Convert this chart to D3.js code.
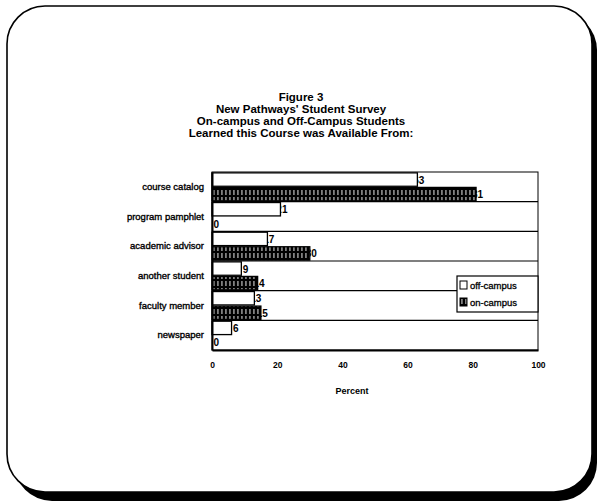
<!DOCTYPE html>
<html>
<head>
<meta charset="utf-8">
<script src="https://cdn.jsdelivr.net/npm/d3@7"></script>
<style>
  body { margin: 0; background: #fff; }
  text { font-family: "Liberation Sans", Arial, sans-serif; fill: #000; }
</style>
</head>
<body>
<div id="chart"></div>
<script>
var categories = ["course catalog", "program pamphlet", "academic advisor", "another student", "faculty member", "newspaper"];
var offCampus = [63, 21, 17, 9, 13, 6];
var onCampus = [81, 0, 30, 14, 15, 0];
var xTicks = [0, 20, 40, 60, 80, 100];
var seriesNames = ["off-campus", "on-campus"];
var titleLines = ["Figure 3", "New Pathways' Student Survey", "On-campus and Off-Campus Students", "Learned this Course was Available From:"];

var W = 597, H = 502;
var plot = { left: 212, right: 538, top: 172, bottom: 350 };

var svg = d3.select("#chart").append("svg")
  .attr("width", W).attr("height", H);

// hatched fill for on-campus bars
var pat = svg.append("defs").append("pattern")
  .attr("id", "hatch")
  .attr("patternUnits", "userSpaceOnUse")
  .attr("width", 4).attr("height", 7);
pat.append("rect").attr("width", 4).attr("height", 7).attr("fill", "#000");
pat.append("rect").attr("x", 1.5).attr("y", 1).attr("width", 0.9).attr("height", 5).attr("fill", "#fff");

// frame with drop shadow
svg.append("rect")
  .attr("x", 14).attr("y", 12).attr("width", 583).attr("height", 489)
  .attr("rx", 38).attr("fill", "#000");
svg.append("rect")
  .attr("x", 7).attr("y", 6).attr("width", 585).attr("height", 486)
  .attr("rx", 38).attr("fill", "#fff")
  .attr("stroke", "#000").attr("stroke-width", 1.6);

// title
svg.append("g").selectAll("text")
  .data(titleLines)
  .enter().append("text")
  .attr("x", 301)
  .attr("y", function (d, i) { return 101 + i * 12; })
  .attr("text-anchor", "middle")
  .style("font-size", "11.5px")
  .style("font-weight", "bold")
  .text(function (d) { return d; });

var x = d3.scaleLinear().domain([0, 100]).range([plot.left, plot.right]);
var y = d3.scaleBand().domain(categories).range([plot.top, plot.bottom]);
var sub = d3.scaleBand().domain(seriesNames).range([0, y.bandwidth()])
  .paddingInner(0.08).paddingOuter(0.06);

var rows = categories.map(function (c, i) {
  return { cat: c, vals: [offCampus[i], onCampus[i]] };
});

// plot area box and category gridlines
svg.append("rect")
  .attr("x", plot.left).attr("y", plot.top)
  .attr("width", plot.right - plot.left).attr("height", plot.bottom - plot.top)
  .attr("fill", "none").attr("stroke", "#000").attr("stroke-width", 1);
svg.append("g").selectAll("line")
  .data(categories.slice(1))
  .enter().append("line")
  .attr("x1", plot.left).attr("x2", plot.right)
  .attr("y1", function (d) { return y(d); })
  .attr("y2", function (d) { return y(d); })
  .attr("stroke", "#000").attr("stroke-width", 1.2);

// data labels (drawn first, bars cover the leading digit as in the scan)
var flat = [];
rows.forEach(function (r) {
  r.vals.forEach(function (v, j) {
    flat.push({ cat: r.cat, s: seriesNames[j], v: v });
  });
});

svg.append("g").selectAll("text")
  .data(flat)
  .enter().append("text")
  .attr("x", function (d) { return x(d.v) + 7; })
  .attr("y", function (d) { return y(d.cat) + sub(d.s) + sub.bandwidth() / 2 + 4; })
  .attr("text-anchor", "end")
  .style("font-size", "10px")
  .style("font-weight", "bold")
  .text(function (d) { return d.v; });

// bars
svg.append("g").selectAll("rect")
  .data(flat)
  .enter().append("rect")
  .attr("x", x(0))
  .attr("y", function (d) { return y(d.cat) + sub(d.s); })
  .attr("width", function (d) { return x(d.v) - x(0); })
  .attr("height", sub.bandwidth())
  .attr("fill", function (d) { return d.s == "off-campus" ? "#fff" : "url(#hatch)"; })
  .attr("stroke", "#000")
  .attr("stroke-width", function (d) { return d.v > 0 ? 1.3 : 0; });

// axes
var xAxis = svg.append("g")
  .attr("transform", "translate(0," + plot.bottom + ")")
  .call(d3.axisBottom(x).tickValues(xTicks).tickSize(0).tickPadding(12));
xAxis.select(".domain").attr("stroke", "#000").attr("stroke-width", 2);
xAxis.selectAll("text")
  .style("font-size", "8.5px").style("font-weight", "bold")
  .style("font-family", "'Liberation Sans', Arial, sans-serif");

var yAxis = svg.append("g")
  .attr("transform", "translate(" + plot.left + ",0)")
  .call(d3.axisLeft(y).tickSize(0).tickPadding(8));
yAxis.select(".domain").attr("stroke", "#000").attr("stroke-width", 2);
yAxis.selectAll("text")
  .style("font-size", "9.5px")
  .style("font-family", "'Liberation Sans', Arial, sans-serif")
  .attr("stroke", "#000").attr("stroke-width", 0.35);

svg.append("text")
  .attr("x", 352).attr("y", 394)
  .attr("text-anchor", "middle")
  .style("font-size", "9px").style("font-weight", "bold")
  .text("Percent");

// legend
var lg = svg.append("g").attr("transform", "translate(457,276)");
lg.append("rect")
  .attr("width", 81).attr("height", 36)
  .attr("fill", "#fff").attr("stroke", "#000").attr("stroke-width", 1.2);
var items = lg.selectAll("g.item")
  .data(seriesNames)
  .enter().append("g")
  .attr("transform", function (d, i) { return "translate(3," + (5 + i * 17) + ")"; });
items.append("rect")
  .attr("width", 7).attr("height", 8)
  .attr("fill", function (d) { return d == "off-campus" ? "#fff" : "url(#hatch)"; })
  .attr("stroke", "#000").attr("stroke-width", 1);
items.append("text")
  .attr("x", 10).attr("y", 8)
  .style("font-size", "9.5px")
  .attr("stroke", "#000").attr("stroke-width", 0.3)
  .text(function (d) { return d; });
</script>
</body>
</html>
